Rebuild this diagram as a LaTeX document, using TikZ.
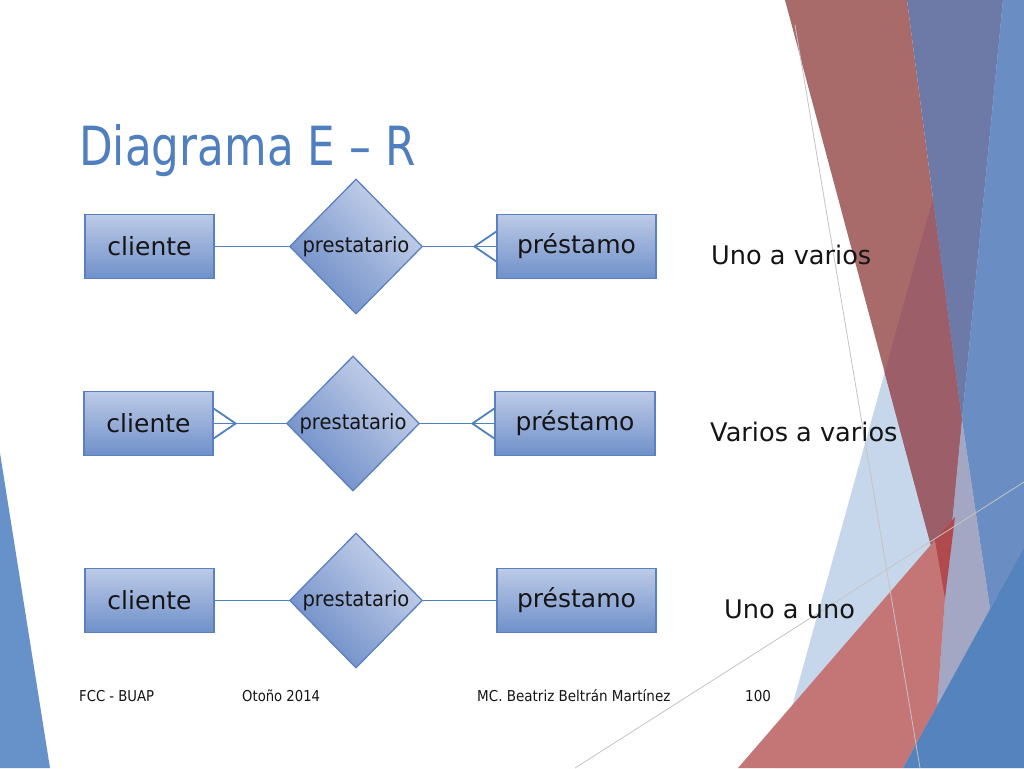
\documentclass[tikz,border=0pt]{standalone}
\usepackage{fontspec}
\usepackage{graphicx}
\setmainfont{DejaVu Sans}
\usetikzlibrary{shapes.geometric}
\definecolor{titleblue}{HTML}{4F7FBE}
\definecolor{edgeblue}{HTML}{5A80BF}
\definecolor{linkblue}{HTML}{4F81BD}
\definecolor{boxtop}{HTML}{BCCAE6}
\definecolor{boxbot}{HTML}{6F90CA}
\definecolor{dialight}{HTML}{CAD5EC}
\definecolor{diadark}{HTML}{6A8AC6}
\definecolor{redA}{HTML}{A96A6A}
\definecolor{redDark}{HTML}{9C5E69}
\definecolor{blueGrey}{HTML}{6D79A6}
\definecolor{blueR}{HTML}{6A8DC3}
\definecolor{lightBlue}{HTML}{C7D7EB}
\definecolor{lavender}{HTML}{A4A7C3}
\definecolor{lowRed}{HTML}{C47576}
\definecolor{darkRed}{HTML}{B04A4C}
\definecolor{blueBR}{HTML}{5583BE}
\definecolor{leftBlue}{HTML}{6791C9}
\definecolor{thinGrey}{HTML}{C4C4C4}
\definecolor{ink}{HTML}{151515}
\tikzset{
  entbox/.style={rectangle, draw=edgeblue, line width=1.3pt, top color=boxtop, bottom color=boxbot,
    minimum height=64pt, inner sep=0pt, text=ink, font=\fontsize{25}{30}\selectfont},
  relbox/.style={diamond, draw=edgeblue, line width=1.3pt, aspect=1, minimum width=133pt, minimum height=135pt,
    inner sep=0pt, top color=dialight, bottom color=diadark, shading angle=-45, text=ink},
  conn/.style={draw=linkblue, line width=1.8pt},
  card/.style={anchor=base west, inner sep=0pt, text=ink, font=\fontsize{25.6}{30}\selectfont},
  foot/.style={anchor=base west, inner sep=0pt, text=ink, font=\fontsize{15}{18}\selectfont},
}
\newcommand{\reltext}{\fontsize{21}{24}\selectfont\scalebox{0.93}[1]{prestatario}}
\begin{document}
\begin{tikzpicture}[x=1pt,y=-1pt]
\useasboundingbox (0,0) rectangle (1024,768);
\fill[white] (0,0) rectangle (1024,768);
% left decoration
\fill[leftBlue] (0,453) -- (50,768) -- (0,768) -- cycle;
% right decoration
\fill[lightBlue] (988,0) -- (1024,0) -- (1024,768) -- (775,768) -- cycle;
\fill[redA] (785,0) -- (907,0) -- (962,420) -- (945,598) -- cycle;
\begin{scope}
  \clip (988,0) -- (1024,0) -- (1024,768) -- (775,768) -- cycle;
  \fill[redDark] (785,0) -- (907,0) -- (962,420) -- (945,598) -- cycle;
\end{scope}
\fill[blueGrey] (907,0) -- (1003,0) -- (962,420) -- cycle;
\fill[blueR] (1003,0) -- (1024,0) -- (1024,547) -- (990,609) -- (962,420) -- cycle;
\fill[lavender] (962,420) -- (990,609) -- (937,706) -- (945,598) -- cycle;
\fill[lowRed] (738,768) -- (935,540) -- (945,598) -- (937,706) -- (903,768) -- cycle;
\fill[darkRed] (935,540) -- (955,517) -- (945,598) -- cycle;
\fill[blueBR] (903,768) -- (1024,547) -- (1024,768) -- cycle;
\draw[thinGrey, line width=0.8pt] (795,25) -- (920,768);
\draw[thinGrey, line width=0.8pt] (575,768) -- (1024,482);
% title
\node[anchor=base west, inner sep=0pt, text=titleblue] (title) at (79,165)
  {\fontsize{54}{60}\selectfont\scalebox{0.81}[1]{Diagrama E – R}};
% row 1
\node[entbox, minimum width=129pt] (c1) at (149.5,246.5) {cliente};
\node[relbox] (d1) at (356,246.5) {\reltext};
\node[entbox, minimum width=159pt] (p1) at (576.5,246.5) {préstamo};
\draw[conn] (c1.east) -- (d1.west);
\draw[conn] (d1.east) -- (p1.west);
\draw[conn] ([yshift=15pt]p1.west) -- ([xshift=-22pt]p1.west) -- ([yshift=-15pt]p1.west);
\node[card] (t1) at (711,264) {Uno a varios};
% row 2
\node[entbox, minimum width=129pt] (c2) at (148.5,423.5) {cliente};
\node[relbox] (d2) at (353,423.5) {\reltext};
\node[entbox, minimum width=160pt] (p2) at (575,423.5) {préstamo};
\draw[conn] (c2.east) -- (d2.west);
\draw[conn] (d2.east) -- (p2.west);
\draw[conn] ([yshift=15pt]c2.east) -- ([xshift=22pt]c2.east) -- ([yshift=-15pt]c2.east);
\draw[conn] ([yshift=15pt]p2.west) -- ([xshift=-22pt]p2.west) -- ([yshift=-15pt]p2.west);
\node[card] (t2) at (710,441) {Varios a varios};
% row 3
\node[entbox, minimum width=129pt] (c3) at (149.5,600.5) {cliente};
\node[relbox] (d3) at (356,600.5) {\reltext};
\node[entbox, minimum width=159pt] (p3) at (576.5,600.5) {préstamo};
\draw[conn] (c3.east) -- (d3.west);
\draw[conn] (d3.east) -- (p3.west);
\node[card] (t3) at (724,618) {Uno a uno};
% footer
\node[foot] (f1) at (79,701) {\scalebox{0.88}[1]{FCC - BUAP}};
\node[foot] (f2) at (242,701) {\scalebox{0.88}[1]{Otoño 2014}};
\node[foot] (f3) at (477,701) {\scalebox{0.9}[1]{MC. Beatriz Beltrán Martínez}};
\node[foot] (f4) at (745,701) {\scalebox{0.9}[1]{100}};
\end{tikzpicture}
\end{document}
